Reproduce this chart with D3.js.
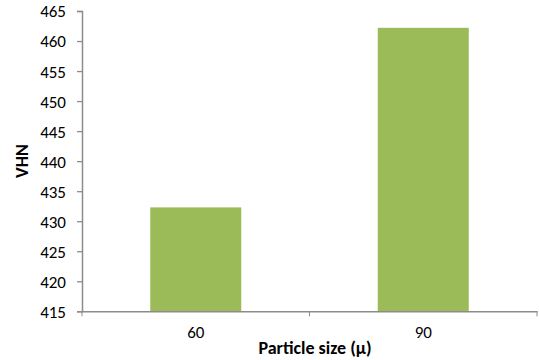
<!DOCTYPE html>
<html>
<head>
<meta charset="utf-8">
<script src="https://cdn.jsdelivr.net/npm/d3@7"></script>
<style>
  body { margin: 0; background: #fff; }
  svg text { font-family: Carlito, Calibri, "Liberation Sans", sans-serif; fill: #000; }
</style>
</head>
<body>
<svg id="chart" width="539" height="360"></svg>
<script>
// Vickers hardness by particle size
const categories = ["60", "90"];
const vhnValues = [432.3, 462.2];
const yTicks = [415, 420, 425, 430, 435, 440, 445, 450, 455, 460, 465];

const svg = d3.select("#chart");
const margin = { left: 82, right: 2, top: 11, bottom: 48 };
const W = 539, H = 360;
const axisColor = "#8c8c8c";

const x = d3.scaleBand()
  .domain(categories)
  .range([margin.left, W - margin.right])
  .paddingInner(0.6)
  .paddingOuter(0.3);

const xTicksScale = d3.scaleBand().domain(categories).range([margin.left, W - margin.right]);

const y = d3.scaleLinear()
  .domain([415, 465])
  .range([H - margin.bottom - 0.7, margin.top]);

// bars
svg.append("g").selectAll("rect")
  .data(categories)
  .join("rect")
  .attr("x", d => x(d))
  .attr("width", x.bandwidth())
  .attr("y", (d, i) => y(vhnValues[i]))
  .attr("height", (d, i) => y(415) - y(vhnValues[i]))
  .attr("fill", "#9bbb59");

// y axis
const yAxis = svg.append("g")
  .attr("transform", `translate(${margin.left},0)`)
  .call(d3.axisLeft(y).tickValues(yTicks).tickSize(5).tickPadding(11));
yAxis.selectAll("text").style("font-size", "17px").attr("dy", "0.35em");

// x axis
const xAxis = svg.append("g")
  .attr("transform", `translate(0,${y(415)})`)
  .call(d3.axisBottom(xTicksScale).tickSize(0).tickPadding(15));
xAxis.selectAll("text").style("font-size", "17px");
// tick marks at category boundaries
const boundaries = [margin.left, ...categories.map(c => xTicksScale(c) + xTicksScale.bandwidth())];
xAxis.selectAll("line.boundary")
  .data(boundaries)
  .join("line")
  .attr("class", "boundary")
  .attr("x1", d => d).attr("x2", d => d)
  .attr("y1", 0).attr("y2", 5)
  .attr("stroke", axisColor);

svg.selectAll(".domain, .tick line").attr("stroke", axisColor).attr("stroke-width", 1.3);
svg.selectAll(".domain").attr("stroke-width", 1.5);

// axis titles
svg.append("text")
  .attr("x", 315).attr("y", 354)
  .attr("text-anchor", "middle")
  .style("font-size", "18px").style("font-weight", "bold")
  .text("Particle size (μ)");

svg.append("text")
  .attr("transform", `translate(28,161) rotate(-90)`)
  .attr("text-anchor", "middle")
  .style("font-size", "18px").style("font-weight", "bold")
  .text("VHN");
</script>
</body>
</html>
